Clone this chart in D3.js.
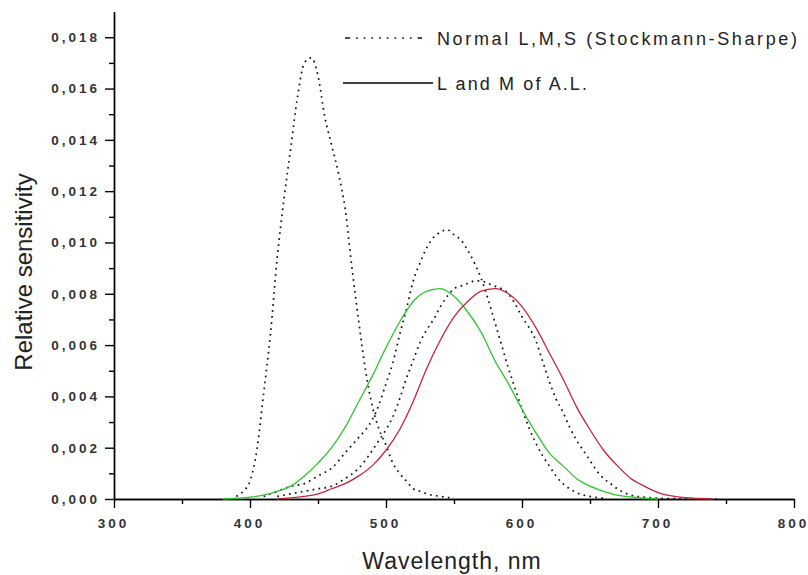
<!DOCTYPE html>
<html>
<head>
<meta charset="utf-8">
<script src="https://cdn.jsdelivr.net/npm/d3@7"></script>
<style>
  body { margin: 0; background: #fff; }
  svg { display: block; font-family: "Liberation Sans", Arial, sans-serif; }
  .tick text { font-size: 13.5px; font-weight: bold; letter-spacing: 3px; fill: #333; }
  .axis path, .axis line { stroke: #000; stroke-width: 1.4px; }
</style>
</head>
<body>
<svg width="808" height="575"></svg>
<script>
// Stockman-Sharpe normal cone fundamentals (dotted)
const sWave = [390, 395, 400, 405, 410, 415, 420, 425, 430, 435, 440, 445, 450, 455, 460, 465, 470, 475, 480, 485, 490, 495, 500, 505, 510, 515, 520, 525, 530, 540, 550]
const sValue = [0.0001, 0.0003, 0.0007, 0.0019, 0.0041, 0.0064, 0.0094, 0.0117, 0.0137, 0.0157, 0.0170, 0.0172, 0.0165, 0.0149, 0.0138, 0.0127, 0.0113, 0.0090, 0.0069, 0.0050, 0.0036, 0.0027, 0.0021, 0.0014, 0.0010, 0.0007, 0.0004, 0.0003, 0.0002, 0.0001, 0.00003]

const mWave = [410, 420, 430, 440, 450, 460, 470, 480, 485, 490, 495, 500, 505, 510, 515, 520, 525, 530, 535, 540, 545, 550, 555, 560, 565, 570, 575, 580, 585, 590, 595, 600, 605, 610, 615, 620, 625, 630, 635, 640, 650, 660]
const mValue = [0.0001, 0.0003, 0.0005, 0.0006, 0.0009, 0.0012, 0.0018, 0.0024, 0.0027, 0.0031, 0.0037, 0.0045, 0.0053, 0.0064, 0.0074, 0.0085, 0.0092, 0.0098, 0.0102, 0.0104, 0.0105, 0.0103, 0.0101, 0.0097, 0.0092, 0.0086, 0.0078, 0.0069, 0.0060, 0.0051, 0.0043, 0.0035, 0.0028, 0.0022, 0.0017, 0.0013, 0.0009, 0.0006, 0.0004, 0.00025, 0.0001, 0.00003]

const lWave = [420, 430, 440, 450, 460, 470, 480, 490, 495, 500, 505, 510, 515, 520, 525, 530, 535, 540, 545, 550, 555, 560, 565, 570, 575, 580, 585, 590, 595, 600, 605, 610, 615, 620, 625, 630, 635, 640, 645, 650, 655, 660, 665, 670, 680, 690, 700, 720, 745]
const lValue = [0.0001, 0.0002, 0.0003, 0.0004, 0.0005, 0.0008, 0.0012, 0.0019, 0.0023, 0.0027, 0.0032, 0.0039, 0.0047, 0.0054, 0.0061, 0.0066, 0.0070, 0.0075, 0.0079, 0.0082, 0.0083, 0.0084, 0.0085, 0.0085, 0.0084, 0.0083, 0.0082, 0.0080, 0.0076, 0.0071, 0.0067, 0.0062, 0.0054, 0.0046, 0.0039, 0.0034, 0.0028, 0.0023, 0.0019, 0.0015, 0.0011, 0.0008, 0.0006, 0.0004, 0.00015, 0.00007, 0.00003, 0.00001, 0]

// L and M of A.L. (solid)
const alMWave = [380, 390, 400, 410, 420, 430, 440, 450, 460, 470, 480, 490, 500, 510, 520, 530, 540, 550, 560, 570, 580, 590, 600, 610, 620, 630, 640, 650, 660, 670, 680, 690, 700]
const alMValue = [0, 0.00003, 0.00007, 0.00015, 0.0003, 0.0005, 0.0009, 0.0014, 0.0020, 0.0028, 0.0038, 0.0048, 0.0059, 0.0069, 0.0077, 0.0081, 0.0082, 0.0079, 0.0073, 0.0065, 0.0054, 0.0045, 0.0035, 0.0026, 0.0018, 0.0013, 0.0008, 0.0005, 0.0003, 0.00015, 0.00008, 0.00003, 0]

const alLWave = [420, 430, 440, 450, 460, 470, 480, 490, 500, 510, 520, 530, 540, 550, 560, 570, 580, 590, 600, 610, 620, 630, 640, 650, 660, 670, 680, 690, 700, 710, 720, 730, 740]
const alLValue = [0, 0.00004, 0.0001, 0.0002, 0.0004, 0.0006, 0.0009, 0.0013, 0.0019, 0.0027, 0.0038, 0.0051, 0.0062, 0.0071, 0.0077, 0.0081, 0.0082, 0.0080, 0.0075, 0.0067, 0.0057, 0.0047, 0.0036, 0.0027, 0.0019, 0.0013, 0.0008, 0.0005, 0.00025, 0.00012, 0.00005, 0.00002, 0]

const xMajor = [300, 400, 500, 600, 700, 800]
const xMinor = [350, 450, 550, 650, 750]
const yMajor = [0, 0.002, 0.004, 0.006, 0.008, 0.010, 0.012, 0.014, 0.016, 0.018]
const yMinor = [0.001, 0.003, 0.005, 0.007, 0.009, 0.011, 0.013, 0.015, 0.017]

const legendLabels = ["Normal L,M,S (Stockmann-Sharpe)", "L and M of A.L."]

const svg = d3.select("svg")

svg.append("rect").attr("width", 808).attr("height", 575).attr("fill", "#fff")

const x = d3.scaleLinear()
    .domain([300, 800])
    .range([114, 794])

const y = d3.scaleLinear()
    .domain([0, 0.019])
    .range([499, 11.6])

const commaFormat = d => d3.format(".3f")(d).replace(".", ",")

// minor ticks first, then the major axes on top
svg.append("g")
    .attr("class", "axis")
    .attr("transform", "translate(0,499)")
    .call(d3.axisBottom(x).tickValues(xMinor).tickSize(5).tickSizeOuter(0).tickFormat(""))

svg.append("g")
    .attr("class", "axis")
    .attr("transform", "translate(114,0)")
    .call(d3.axisLeft(y).tickValues(yMinor).tickSize(5).tickSizeOuter(0).tickFormat(""))

const xAxis = svg.append("g")
    .attr("class", "axis")
    .attr("transform", "translate(0,499)")
    .call(d3.axisBottom(x).tickValues(xMajor).tickSize(9).tickSizeOuter(0).tickPadding(10))

xAxis.selectAll("text").attr("dx", "-1px")

svg.append("g")
    .attr("class", "axis")
    .attr("transform", "translate(114,0)")
    .call(d3.axisLeft(y).tickValues(yMajor).tickSize(9).tickSizeOuter(0).tickPadding(5).tickFormat(commaFormat))

const line = d3.line()
    .x(d => x(d[0]))
    .y(d => y(d[1]))
    .curve(d3.curveMonotoneX)

const dotted = [[sWave, sValue], [mWave, mValue], [lWave, lValue]]

dotted.forEach(s => {
    svg.append("path")
        .datum(d3.zip(s[0], s[1]))
        .attr("d", line)
        .attr("fill", "none")
        .attr("stroke", "#111")
        .attr("stroke-width", 1.7)
        .attr("stroke-dasharray", "1.7 4.3")
})

svg.append("path")
    .datum(d3.zip(alMWave, alMValue))
    .attr("d", line)
    .attr("fill", "none")
    .attr("stroke", "#2ec42e")
    .attr("stroke-width", 1.3)

svg.append("path")
    .datum(d3.zip(alLWave, alLValue))
    .attr("d", line)
    .attr("fill", "none")
    .attr("stroke", "#c8233c")
    .attr("stroke-width", 1.3)

// legend
svg.append("line")
    .attr("x1", 345).attr("x2", 422)
    .attr("y1", 38).attr("y2", 38)
    .attr("stroke", "#111")
    .attr("stroke-width", 1.7)
    .attr("stroke-dasharray", "5 6 1.7 6 1.7 6 1.7 6 1.7 6 1.7 6 1.7 6 1.7 6 1.7 6")

svg.append("line")
    .attr("x1", 343).attr("x2", 433)
    .attr("y1", 83).attr("y2", 83)
    .attr("stroke", "#000")
    .attr("stroke-width", 1.5)

svg.selectAll(".legend")
    .data(legendLabels)
    .enter()
    .append("text")
    .attr("class", "legend")
    .attr("x", 437)
    .attr("y", (d, i) => i == 0 ? 45 : 90)
    .attr("textLength", (d, i) => i == 0 ? 360 : 150)
    .attr("lengthAdjust", "spacing")
    .attr("font-size", 18)
    .attr("fill", "#222")
    .text(d => d)

// axis titles
svg.append("text")
    .attr("x", 452)
    .attr("y", 569)
    .attr("text-anchor", "middle")
    .attr("font-size", 23)
    .attr("letter-spacing", "1px")
    .attr("fill", "#222")
    .text("Wavelength, nm")

svg.append("text")
    .attr("transform", "translate(32,272) rotate(-90)")
    .attr("text-anchor", "middle")
    .attr("font-size", 24)
    .attr("fill", "#222")
    .text("Relative sensitivity")
</script>
</body>
</html>
